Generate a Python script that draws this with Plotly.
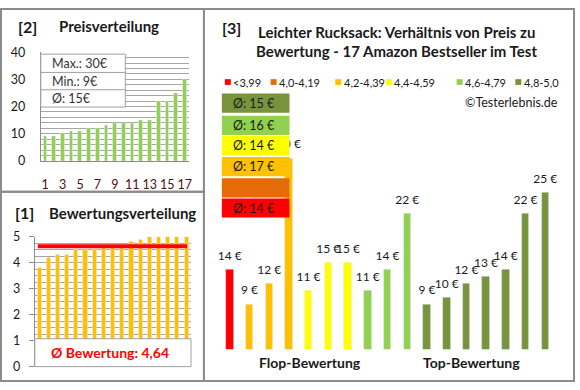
import plotly.graph_objects as go

W, H = 580, 390
FONT = "Lato"

# ---------------- data ----------------
preis_index = list(range(1, 18))
preis_sortiert = [9, 9, 10, 11, 11, 12, 12, 13, 14, 14, 14, 15, 15, 22, 22, 25, 30]
preis_ticks = [1, 3, 5, 7, 9, 11, 13, 15, 17]
preis_info = ["Max.: 30€", "Min.: 9€", "Ø: 15€"]

bewertung_sortiert = [3.8, 4.2, 4.3, 4.3, 4.5, 4.5, 4.5, 4.6, 4.6, 4.6, 4.8, 4.9, 5.0, 5.0, 5.0, 5.0, 5.0]
bewertung_mittel = 4.64
bewertung_text = "Ø Bewertung: 4,64"

produkt_preise = [14, 9, 12, 30, 11, 15, 15, 11, 14, 22, 9, 10, 12, 13, 14, 22, 25]
produkt_gruppe = [0, 2, 2, 2, 3, 3, 3, 4, 4, 4, 5, 5, 5, 5, 5, 5, 5]

gruppen_labels = ["<3,99", "4,0-4,19", "4,2-4,39", "4,4-4,59", "4,6-4,79", "4,8-5,0"]
gruppen_farben = ["#FF0000", "#E36C09", "#FFC000", "#FFFF00", "#92D050", "#77933C"]
gruppen_mittel = ["Ø: 14 €", "", "Ø: 17 €", "Ø: 14 €", "Ø: 16 €", "Ø: 15 €"]


def px(x):
    return x / W


def py(y):
    return 1 - y / H


fig = go.Figure()

# panel [2] price distribution
fig.add_trace(go.Bar(x=preis_index, y=preis_sortiert, marker_color="#92D050",
                     width=0.42, xaxis="x", yaxis="y", showlegend=False))
# panel [1] rating distribution
fig.add_trace(go.Bar(x=preis_index, y=bewertung_sortiert, marker_color="#FFC000",
                     width=0.45, xaxis="x2", yaxis="y2", showlegend=False))
# panel [3] price vs rating
fig.add_trace(go.Bar(x=preis_index, y=produkt_preise,
                     marker_color=[gruppen_farben[g] for g in produkt_gruppe],
                     width=0.38, xaxis="x3", yaxis="y3", showlegend=False))
fig.add_trace(go.Scatter(x=preis_index, y=produkt_preise, mode="markers+text",
                         marker=dict(size=9, color="rgba(0,0,0,0)"),
                         text=[f"{p} €" for p in produkt_preise], textposition="top center",
                         textfont=dict(family=FONT, size=12, color="#1a1a1a"),
                         xaxis="x3", yaxis="y3", showlegend=False, cliponaxis=False, hoverinfo="skip"))

grid = "#a6a6a6"
fig.update_layout(
    width=W, height=H, margin=dict(l=0, r=0, t=0, b=0),
    paper_bgcolor="white", plot_bgcolor="white",
    font=dict(family=FONT, size=12, color="#1a1a1a"),
    bargap=0,
    xaxis=dict(domain=[px(41), px(190)], range=[0.5, 17.5], tickvals=preis_ticks,
               showgrid=False, showline=True, linecolor="#8c8c8c", linewidth=1,
               ticks="outside", ticklen=12, tickcolor="rgba(0,0,0,0)",
               tickfont=dict(size=12.5, color="#501010"), zeroline=False, fixedrange=True),
    yaxis=dict(domain=[py(159), py(46)], range=[0, 40], dtick=10,
               showgrid=True, gridcolor=grid, gridwidth=1,
               minor=dict(dtick=2, showgrid=True, gridcolor=grid, gridwidth=1),
               showline=True, linecolor="#8c8c8c", linewidth=1, zeroline=False,
               ticks="", ticklabelstandoff=12, tickfont=dict(size=12.5, color="#1a1a1a"), fixedrange=True),
    xaxis2=dict(domain=[px(35), px(192)], range=[0.5, 17.5], showticklabels=False,
                showgrid=False, zeroline=False, showline=False, anchor="y2", fixedrange=True),
    yaxis2=dict(domain=[py(373), py(238)], range=[0, 5], dtick=1,
                showgrid=True, gridcolor=grid, gridwidth=1,
                minor=dict(dtick=0.25, showgrid=True, gridcolor=grid, gridwidth=1),
                showline=True, linecolor="#8c8c8c", linewidth=1, zeroline=False,
                ticks="outside", ticklen=5, tickcolor="#8c8c8c", ticklabelstandoff=6,
                tickfont=dict(size=12.5, color="#1a1a1a"), anchor="x2", fixedrange=True),
    xaxis3=dict(domain=[px(221), px(558)], range=[0.5, 17.5], visible=False, anchor="y3"),
    yaxis3=dict(domain=[py(355), py(83.6)], range=[2.5, 40], visible=False, anchor="x3"),
)

shapes = []
annotations = []

# panel borders
bc = "#8c8c8c"
shapes.append(dict(type="rect", xref="paper", yref="paper", x0=px(1), x1=px(205), y0=py(191), y1=py(1),
                   line=dict(color=bc, width=2), layer="above"))
shapes.append(dict(type="rect", xref="paper", yref="paper", x0=px(1), x1=px(205), y0=py(388), y1=py(191),
                   line=dict(color=bc, width=2), layer="above"))
shapes.append(dict(type="rect", xref="paper", yref="paper", x0=px(205), x1=px(577), y0=py(388), y1=py(1),
                   line=dict(color=bc, width=2), layer="above"))

# panel [2] titles + info box
annotations.append(dict(text="<b>[2]</b>", x=px(16), y=py(19), xref="paper", yref="paper",
                        xanchor="left", yanchor="middle", showarrow=False, font=dict(size=16, color="#1a1a1a")))
annotations.append(dict(text="<b>Preisverteilung</b>", x=px(57), y=py(19), xref="paper", yref="paper",
                        xanchor="left", yanchor="middle", showarrow=False, font=dict(size=15, color="#1a1a1a")))
shapes.append(dict(type="rect", xref="paper", yref="paper", x0=px(41), x1=px(126), y0=py(103), y1=py(48),
                   fillcolor="white", line=dict(color="#a0a0a0", width=1), layer="above"))
for yy in (67, 85):
    shapes.append(dict(type="line", xref="paper", yref="paper", x0=px(41), x1=px(126), y0=py(yy), y1=py(yy),
                       line=dict(color="#a0a0a0", width=1), layer="above"))
for txt, yy in zip(preis_info, (58, 76, 94)):
    annotations.append(dict(text=txt, x=px(50), y=py(yy), xref="paper", yref="paper",
                            xanchor="left", yanchor="middle", showarrow=False, font=dict(size=12.5, color="#333333")))

# panel [1] titles, mean line, box
annotations.append(dict(text="<b>[1]</b>", x=px(13), y=py(213), xref="paper", yref="paper",
                        xanchor="left", yanchor="middle", showarrow=False, font=dict(size=16, color="#1a1a1a")))
annotations.append(dict(text="<b>Bewertungsverteilung</b>", x=px(47), y=py(213), xref="paper", yref="paper",
                        xanchor="left", yanchor="middle", showarrow=False, font=dict(size=15, color="#1a1a1a")))
shapes.append(dict(type="line", xref="paper", yref="y2", x0=px(38), x1=px(188),
                   y0=bewertung_mittel, y1=bewertung_mittel, line=dict(color="#FF0000", width=4), layer="above"))
shapes.append(dict(type="rect", xref="paper", yref="paper", x0=px(35), x1=px(192), y0=py(373), y1=py(344),
                   fillcolor="white", line=dict(color="#a0a0a0", width=1), layer="above"))
annotations.append(dict(text="<b>" + bewertung_text + "</b>", x=px(111), y=py(358), xref="paper", yref="paper",
                        xanchor="center", yanchor="middle", showarrow=False, font=dict(size=14, color="#FF0000")))

# panel [3] titles
annotations.append(dict(text="<b>[3]</b>", x=px(221), y=py(20), xref="paper", yref="paper",
                        xanchor="left", yanchor="middle", showarrow=False, font=dict(size=16, color="#1a1a1a")))
annotations.append(dict(text="<b>Leichter Rucksack: Verhältnis von Preis zu</b>", x=px(399), y=py(25),
                        xref="paper", yref="paper", xanchor="center", yanchor="middle", showarrow=False,
                        font=dict(size=15, color="#1a1a1a")))
annotations.append(dict(text="<b>Bewertung - 17 Amazon Bestseller im Test</b>", x=px(399), y=py(45),
                        xref="paper", yref="paper", xanchor="center", yanchor="middle", showarrow=False,
                        font=dict(size=15, color="#1a1a1a")))

# legend row
leg_sq = [226, 272, 337, 388, 459, 518]
for x0, lab, col in zip(leg_sq, gruppen_labels, gruppen_farben):
    shapes.append(dict(type="rect", xref="paper", yref="paper", x0=px(x0), x1=px(x0 + 6), y0=py(80), y1=py(74),
                       fillcolor=col, line=dict(width=0), layer="above"))
    annotations.append(dict(text=lab, x=px(x0 + 6.5), y=py(77), xref="paper", yref="paper",
                            xanchor="left", yanchor="middle", showarrow=False, font=dict(size=11, color="#1a1a1a")))
annotations.append(dict(text="©Testerlebnis.de", x=px(563), y=py(98), xref="paper", yref="paper",
                        xanchor="right", yanchor="middle", showarrow=False, font=dict(size=12.5, color="#1a1a1a")))

# average boxes (bottom: red ... top: olive)
box_tops = [198, 177, 155, 133, 112, 89]
for top, col, txt in zip(box_tops, gruppen_farben, gruppen_mittel):
    shapes.append(dict(type="rect", xref="paper", yref="paper", x0=px(223), x1=px(291), y0=py(top + 20), y1=py(top),
                       fillcolor=col, line=dict(width=0), layer="above"))
    if txt:
        annotations.append(dict(text=txt, x=px(232), y=py(top + 10), xref="paper", yref="paper",
                                xanchor="left", yanchor="middle", showarrow=False,
                                font=dict(size=12.5, color="#1a1a1a")))

annotations.append(dict(text="<b>Flop-Bewertung</b>", x=px(312), y=py(369), xref="paper", yref="paper",
                        xanchor="center", yanchor="middle", showarrow=False, font=dict(size=14, color="#1a1a1a")))
annotations.append(dict(text="<b>Top-Bewertung</b>", x=px(474), y=py(369), xref="paper", yref="paper",
                        xanchor="center", yanchor="middle", showarrow=False, font=dict(size=14, color="#1a1a1a")))

fig.update_layout(shapes=shapes, annotations=annotations)
fig.write_html("out.html", config={"displayModeBar": False},
               post_script="document.body.style.margin='0';document.body.style.padding='0';")
